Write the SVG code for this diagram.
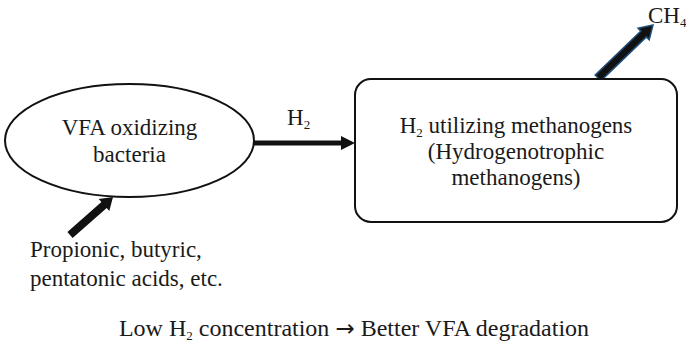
<svg xmlns="http://www.w3.org/2000/svg" width="686" height="347" viewBox="0 0 686 347">
<style>
text{font-family:"Liberation Serif","Times New Roman",serif;font-size:23px;fill:#1a1a1a}
.m{text-anchor:middle}
.shape{fill:#fff;stroke:#111;stroke-width:2}
.sub{font-size:13px}
.big{font-size:24px}
.arr{font-family:"DejaVu Sans",sans-serif;font-size:23px}
</style>
<rect width="686" height="347" fill="#fff"/>
<g id="connectors">
<line x1="254" y1="143" x2="343" y2="143" stroke="#111" stroke-width="5"/>
<polygon points="341,136 355,143 341,150" fill="#111"/>
<polygon points="67.4,232 101.4,201.9 98.7,198.9 113,197 109.3,210.9 106.7,207.9 72.6,238" fill="#111"/>
<polygon points="595.2,75.1 640.9,31.1 638.1,28.3 653,25 649.2,39.8 646.4,36.9 600.8,80.9" fill="#111" stroke="#1f4e79" stroke-width="1.5" stroke-linejoin="miter"/>
<text x="287" y="125">H<tspan class="sub" dy="4">2</tspan></text>
</g>
<g id="vfa">
<ellipse class="shape" cx="129.5" cy="140.5" rx="124.5" ry="56.5"/>
<text class="m" x="129.5" y="135">VFA oxidizing</text>
<text class="m" x="129.5" y="162">bacteria</text>
</g>
<g id="methanogens">
<rect class="shape" x="355" y="79" width="322" height="143" rx="16"/>
<text class="m" x="516" y="133">H<tspan class="sub" dy="4">2</tspan><tspan dy="-4"> utilizing methanogens</tspan></text>
<text class="m" x="516" y="159">(Hydrogenotrophic</text>
<text class="m" x="516" y="185">methanogens)</text>
</g>
<g id="ch4">
<text x="648" y="23">CH<tspan class="sub" dy="4">4</tspan></text>
</g>
<g id="acids">
<text x="30" y="257">Propionic, butyric,</text>
<text x="30" y="286">pentatonic acids, etc.</text>
</g>
<g id="note">
<text class="m big" x="354" y="336">Low H<tspan class="sub" dy="4">2</tspan><tspan dy="-4"> concentration </tspan><tspan class="arr">→</tspan> Better VFA degradation</text>
</g>
</svg>
